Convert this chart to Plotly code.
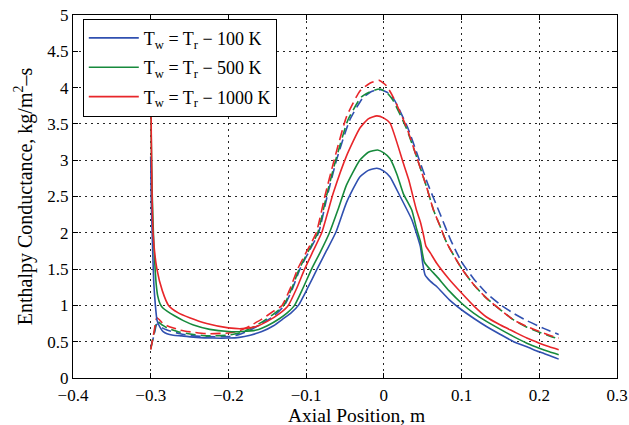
import plotly.graph_objects as go

# ---- data ----
blue_x = [-0.3, -0.2993, -0.2975, -0.296, -0.294, -0.292, -0.29, -0.287, -0.284, -0.279, -0.271, -0.26,
          -0.241, -0.22, -0.2, -0.186, -0.172, -0.157, -0.142, -0.129, -0.119, -0.110, -0.098, -0.086,
          -0.074, -0.062, -0.048, -0.031, -0.02, -0.009, 0.0, 0.008, 0.021, 0.036, 0.047, 0.05, 0.053,
          0.06, 0.068, 0.084, 0.1, 0.116, 0.132, 0.15, 0.167, 0.184, 0.2, 0.213, 0.225]
blue_y = [3.05, 2.45, 1.76, 1.30, 1.0, 0.80, 0.74, 0.68, 0.64, 0.61, 0.59, 0.58,
          0.56, 0.55, 0.55, 0.56, 0.59, 0.64, 0.72, 0.82, 0.90, 1.0, 1.24, 1.50,
          1.75, 2.0, 2.42, 2.77, 2.86, 2.89, 2.85, 2.77, 2.50, 2.18, 1.81, 1.58, 1.42,
          1.33, 1.26, 1.08, 0.94, 0.82, 0.71, 0.60, 0.50, 0.43, 0.36, 0.31, 0.26]

green_x = [-0.3, -0.2993, -0.298, -0.2965, -0.295, -0.293, -0.291, -0.288, -0.284, -0.279, -0.27, -0.258,
           -0.245, -0.224, -0.2, -0.182, -0.164, -0.15, -0.134, -0.124, -0.115, -0.104, -0.093, -0.081,
           -0.07, -0.059, -0.048, -0.031, -0.02, -0.008, 0.0, 0.008, 0.017, 0.025, 0.036, 0.042, 0.047,
           0.052, 0.06, 0.068, 0.084, 0.1, 0.116, 0.132, 0.15, 0.167, 0.184, 0.2, 0.213, 0.225]
green_y = [4.3, 3.3, 2.5, 1.99, 1.63, 1.30, 1.13, 1.02, 0.96, 0.92, 0.86, 0.79,
           0.73, 0.67, 0.64, 0.64, 0.66, 0.72, 0.82, 0.90, 1.0, 1.24, 1.5, 1.75,
           2.0, 2.32, 2.66, 3.0, 3.11, 3.14, 3.10, 3.02, 2.80, 2.54, 2.31, 2.06, 1.88,
           1.60, 1.49, 1.40, 1.20, 1.03, 0.89, 0.78, 0.67, 0.57, 0.48, 0.41, 0.36, 0.32]

red_x = [-0.3, -0.2993, -0.297, -0.292, -0.285, -0.277, -0.265, -0.25, -0.228,
         -0.2, -0.182, -0.164, -0.15, -0.134, -0.123, -0.112, -0.102, -0.091, -0.080, -0.065, -0.048, -0.031,
         -0.02, -0.009, 0.0, 0.008, 0.025, 0.032, 0.042, 0.047, 0.051, 0.054, 0.06, 0.068, 0.084,
         0.1, 0.116, 0.132, 0.15, 0.167, 0.184, 0.2, 0.213, 0.225]
red_y = [4.8, 3.37, 2.0, 1.5, 1.2, 1.0, 0.9, 0.83, 0.75,
         0.69, 0.68, 0.71, 0.78, 0.89, 1.0, 1.24, 1.5, 1.75, 2.0, 2.55, 3.06, 3.44,
         3.57, 3.61, 3.58, 3.51, 2.96, 2.73, 2.31, 2.15, 1.97, 1.82, 1.72, 1.58, 1.36,
         1.17, 0.99, 0.84, 0.73, 0.64, 0.55, 0.48, 0.43, 0.39]

red_d_x = [-0.3, -0.296, -0.292, -0.285, -0.279, -0.262, -0.245, -0.228, -0.2, -0.186, -0.172, -0.157,
           -0.142, -0.131, -0.121, -0.111, -0.099, -0.087, -0.076, -0.064, -0.048, -0.031, -0.018, -0.006, 0.003,
           0.012, 0.029, 0.042, 0.055, 0.064, 0.072, 0.081, 0.1, 0.116, 0.132, 0.15, 0.167, 0.184,
           0.2, 0.213, 0.225]
red_d_y = [0.39, 0.62, 0.83, 0.76, 0.72, 0.66, 0.63, 0.61, 0.62, 0.65, 0.72, 0.81,
           0.92, 1.0, 1.22, 1.5, 1.75, 2.0, 2.5, 3.0, 3.6, 3.95, 4.06, 4.10, 4.03,
           3.87, 3.46, 3.05, 2.63, 2.31, 2.10, 1.86, 1.51, 1.28, 1.10, 0.94, 0.80, 0.71,
           0.64, 0.59, 0.55]

green_d_x = [-0.3, -0.296, -0.292, -0.285, -0.279, -0.262, -0.245, -0.228, -0.2, -0.186, -0.172, -0.157,
             -0.142, -0.129, -0.119, -0.109, -0.097, -0.085, -0.074, -0.062, -0.046, -0.029, -0.016, -0.005, 0.004,
             0.012, 0.029, 0.042, 0.055, 0.064, 0.072, 0.081, 0.1, 0.116, 0.132, 0.15, 0.167, 0.184,
             0.2, 0.213, 0.225]
green_d_y = [0.40, 0.60, 0.78, 0.73, 0.69, 0.63, 0.60, 0.58, 0.59, 0.62, 0.68, 0.77,
             0.88, 1.0, 1.22, 1.5, 1.75, 2.0, 2.5, 3.0, 3.56, 3.87, 3.95, 3.98, 3.93,
             3.82, 3.44, 3.05, 2.63, 2.31, 2.10, 1.86, 1.51, 1.28, 1.10, 0.94, 0.80, 0.70,
             0.63, 0.58, 0.54]

blue_d_x = [-0.3, -0.296, -0.292, -0.285, -0.279, -0.262, -0.245, -0.228, -0.2, -0.186, -0.172, -0.157,
            -0.142, -0.128, -0.118, -0.108, -0.096, -0.084, -0.073, -0.061, -0.044, -0.027, -0.015, -0.004, 0.005,
            0.014, 0.031, 0.044, 0.057, 0.072, 0.086, 0.1, 0.116, 0.132, 0.15, 0.167, 0.184,
            0.2, 0.213, 0.225]
blue_d_y = [0.42, 0.58, 0.74, 0.69, 0.66, 0.61, 0.58, 0.57, 0.57, 0.60, 0.66, 0.75,
            0.85, 1.0, 1.22, 1.5, 1.75, 2.0, 2.5, 3.0, 3.55, 3.86, 3.95, 3.97, 3.93,
            3.82, 3.44, 3.05, 2.66, 2.27, 1.90, 1.60, 1.36, 1.17, 1.01, 0.89, 0.79,
            0.71, 0.65, 0.60]

legend_names = ["T<sub>w</sub> = T<sub>r</sub> \u2212 100 K",
                "T<sub>w</sub> = T<sub>r</sub> \u2212 500 K",
                "T<sub>w</sub> = T<sub>r</sub> \u2212 1000 K"]

x_ticks = [-0.4, -0.3, -0.2, -0.1, 0, 0.1, 0.2, 0.3]
y_ticks = [0, 0.5, 1, 1.5, 2, 2.5, 3, 3.5, 4, 4.5, 5]

x_title = "Axial Position, m"
y_title = "Enthalpy Conductance, kg/m<sup>2</sup>\u2013s"

BLUE = "#3050b0"
GREEN = "#178a3c"
RED = "#e8262a"
FONT = "Liberation Serif"

fig = go.Figure()
# dashed traces (no legend)
for xs, ys, c in [(blue_d_x, blue_d_y, BLUE), (green_d_x, green_d_y, GREEN), (red_d_x, red_d_y, RED)]:
    fig.add_trace(go.Scatter(x=xs, y=ys, mode="lines", showlegend=False,
                             line=dict(color=c, width=1.6, dash="10px,5px", shape="spline", smoothing=0.5)))
# solid traces
for i, (xs, ys, c, n) in enumerate([(blue_x, blue_y, BLUE, legend_names[0]),
                                     (green_x, green_y, GREEN, legend_names[1]),
                                     (red_x, red_y, RED, legend_names[2])]):
    fig.add_trace(go.Scatter(x=xs, y=ys, mode="lines", name=n, legendgroup=f"g{i}",
                             line=dict(color=c, width=1.6, shape="spline", smoothing=0.5)))

axis_common = dict(showline=True, linecolor="black", linewidth=1, mirror="ticks",
                   ticks="inside", ticklen=5, tickcolor="black",
                   showgrid=True, gridcolor="rgba(0,0,0,0.85)", griddash="2px,4px", gridwidth=1,
                   zeroline=False, automargin=False)

fig.update_layout(
    width=629, height=425,
    margin=dict(l=73, r=12, t=15, b=47),
    paper_bgcolor="white", plot_bgcolor="white",
    font=dict(family=FONT, color="black"),
    xaxis=dict(range=[-0.4, 0.3], tickvals=x_ticks, ticklabelstandoff=2,
               tickfont=dict(family=FONT, size=17, color="black"), **axis_common),
    yaxis=dict(range=[0, 5], tickvals=y_ticks,
               tickfont=dict(family=FONT, size=17, color="black"),
               title=dict(text=y_title, font=dict(family=FONT, size=20), standoff=9),
               **axis_common),
    legend=dict(x=0.018, y=0.99, xanchor="left", yanchor="top",
                bgcolor="white", bordercolor="black", borderwidth=1,
                font=dict(family=FONT, size=18, color="black"),
                itemwidth=50, tracegroupgap=3),
    annotations=[dict(text=x_title, xref="paper", yref="paper", x=0.522, y=-0.1033,
                      xanchor="center", yanchor="middle", showarrow=False,
                      font=dict(family=FONT, size=19.5, color="black"))],
)

fig.write_html("out.html")
